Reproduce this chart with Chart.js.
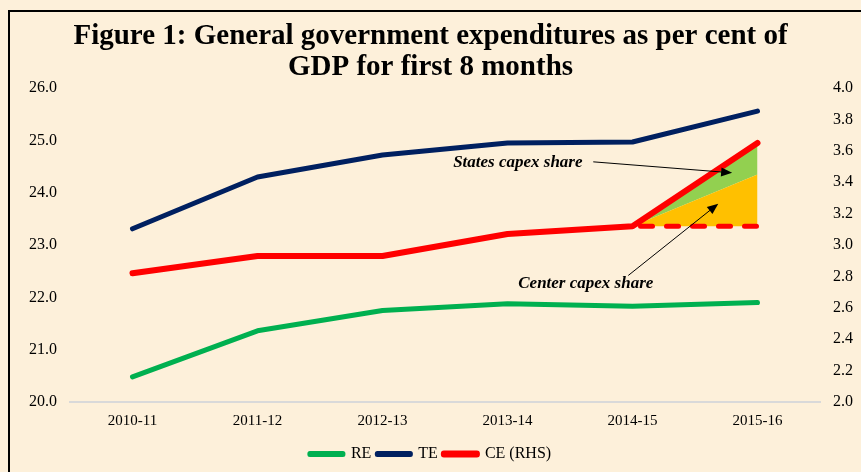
<!DOCTYPE html>
<html>
<head>
<meta charset="utf-8">
<script src="https://cdn.jsdelivr.net/npm/chart.js@4"></script>
<style>
  body { margin: 0; background: #fdf0da; overflow: hidden; }
  #wrap { position: relative; width: 861px; height: 472px; }
  #frame { position: absolute; left: 8px; top: 10px; width: 900px; height: 500px;
           border: 2px solid #000; pointer-events: none; }
</style>
</head>
<body>
<div id="wrap">
  <canvas id="chart" width="861" height="472"></canvas>
  <div id="frame"></div>
</div>
<script>
const years = ["2010-11", "2011-12", "2012-13", "2013-14", "2014-15", "2015-16"];
const reValues = [20.48, 21.36, 21.75, 21.88, 21.83, 21.9];
const teValues = [23.31, 24.3, 24.72, 24.95, 24.97, 25.56];
const ceValues = [2.82, 2.93, 2.93, 3.07, 3.12, 3.65];
// capex split for 2015-16: flat 2014-15 level, centre share on top of it, states share above
const ceBaseline = [null, null, null, null, 3.12, 3.12];
const centerCapex = [null, null, null, null, 3.12, 3.45];
const leftRange = [20, 26, 1];
const rightRange = [2, 4, 0.2];

const serif = "'Liberation Serif', 'Times New Roman', serif";
const ceTop = ceValues.map((v, i) => (centerCapex[i] == null ? null : v));

function lineSet(label, data, color, axis, width) {
  return {
    label: label,
    data: data,
    borderColor: color,
    backgroundColor: color,
    borderWidth: width,
    yAxisID: axis,
    pointRadius: 0,
    tension: 0,
    borderCapStyle: "round",
    borderJoinStyle: "round",
    fill: false,
  };
}

// arrows and notes, placed in data units
const notes = {
  id: "notes",
  afterDatasetsDraw(chart) {
    const ctx = chart.ctx;
    const x = chart.scales.x;
    const y = chart.scales.y1;
    const P = (a, b) => [x.getPixelForValue(a), y.getPixelForValue(b)];

    function arrow(from, to) {
      const [x1, y1] = P(from[0], from[1]);
      const [x2, y2] = P(to[0], to[1]);
      const ang = Math.atan2(y2 - y1, x2 - x1);
      const c = Math.cos(ang), s = Math.sin(ang);
      ctx.save();
      ctx.strokeStyle = "#000";
      ctx.fillStyle = "#000";
      ctx.lineWidth = 1;
      ctx.beginPath();
      ctx.moveTo(x1, y1);
      ctx.lineTo(x2 - 8 * c, y2 - 8 * s);
      ctx.stroke();
      ctx.beginPath();
      ctx.moveTo(x2, y2);
      ctx.lineTo(x2 - 11 * c + 4.5 * s, y2 - 11 * s - 4.5 * c);
      ctx.lineTo(x2 - 11 * c - 4.5 * s, y2 - 11 * s + 4.5 * c);
      ctx.closePath();
      ctx.fill();
      ctx.restore();
    }

    ctx.save();
    ctx.font = "italic bold 17px " + serif;
    ctx.fillStyle = "#000";
    ctx.textAlign = "left";
    ctx.textBaseline = "alphabetic";
    let p = P(2.565, 3.494);
    ctx.fillText("States capex share", p[0], p[1]);
    p = P(3.086, 2.724);
    ctx.fillText("Center capex share", p[0], p[1]);
    ctx.restore();

    arrow([3.686, 3.53], [4.797, 3.46]);
    arrow([3.966, 2.806], [4.686, 3.263]);
  },
};

const dashed = lineSet("base", ceBaseline, "#ff0000", "y1", 5);
dashed.borderDash = [12, 14];
dashed.borderDashOffset = -8;

const centerSet = lineSet("center", centerCapex, "rgba(0,0,0,0)", "y1", 0);
centerSet.fill = { target: 3 };
centerSet.backgroundColor = "#ffc000";

const statesSet = lineSet("states", ceTop, "rgba(0,0,0,0)", "y1", 0);
statesSet.fill = { target: 4 };
statesSet.backgroundColor = "#92d050";

new Chart(document.getElementById("chart"), {
  type: "line",
  data: {
    labels: years,
    datasets: [
      lineSet("RE", reValues, "#00b050", "y", 5),
      lineSet("TE", teValues, "#002060", "y", 5),
      lineSet("CE (RHS)", ceValues, "#ff0000", "y1", 6),
      dashed,
      centerSet,
      statesSet,
    ],
  },
  options: {
    responsive: false,
    animation: false,
    layout: { padding: 0 },
    plugins: {
      tooltip: { enabled: false },
      title: {
        display: true,
        text: ["Figure 1: General government expenditures as per cent of", "GDP for first 8 months"],
        color: "#000",
        font: { family: serif, size: 29, weight: "bold", lineHeight: 1.07 },
        padding: { top: 21, bottom: 5 },
      },
      legend: {
        position: "bottom",
        labels: {
          filter: (item) => item.datasetIndex < 3,
          color: "#000",
          font: { family: serif, size: 16 },
          boxWidth: 33,
          boxHeight: 1,
          padding: 6,
        },
      },
    },
    scales: {
      x: {
        offset: true,
        grid: { display: false, drawTicks: false },
        border: { display: true, color: "#d9d9d9", width: 2 },
        ticks: { color: "#000", font: { family: serif, size: 15 }, padding: 10 },
        afterFit: (s) => { s.height = 38; },
      },
      y: {
        position: "left",
        min: leftRange[0],
        max: leftRange[1],
        grid: { display: false, drawTicks: false },
        border: { display: false },
        ticks: {
          stepSize: leftRange[2],
          color: "#000",
          font: { family: serif, size: 16 },
          padding: 13,
          callback: (v) => v.toFixed(1),
        },
        afterFit: (s) => { s.width = 70; },
      },
      y1: {
        position: "right",
        min: rightRange[0],
        max: rightRange[1],
        grid: { display: false, drawTicks: false },
        border: { display: false },
        ticks: {
          stepSize: rightRange[2],
          color: "#000",
          font: { family: serif, size: 16 },
          padding: 13,
          callback: (v) => v.toFixed(1),
        },
        afterFit: (s) => { s.width = 41; },
      },
    },
  },
  plugins: [notes],
});
</script>
</body>
</html>
